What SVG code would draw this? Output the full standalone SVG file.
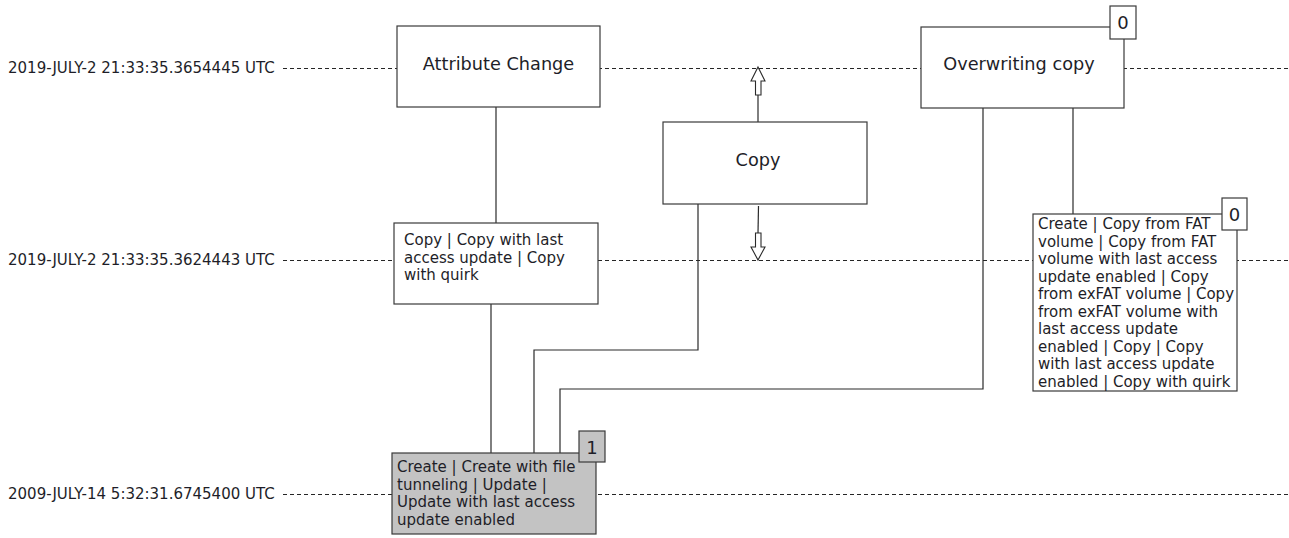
<svg xmlns="http://www.w3.org/2000/svg" width="1289" height="538" viewBox="0 0 1289 538">
  <style>
    .bg { fill: #ffffff; }
    .time { font-family: "DejaVu Sans", Verdana, sans-serif; font-size: 15px; fill: #1e1e28; }
    .axis { stroke: #262626; stroke-width: 1; stroke-dasharray: 4 3; fill: none; }
    .box { fill: #ffffff; stroke: #3a3a3a; stroke-width: 1.2; }
    .box.gray { fill: #c3c3c3; }
    .title { font-family: "DejaVu Sans", Verdana, sans-serif; font-size: 17.7px; fill: #1e1e28; text-anchor: middle; }
    .body { font-family: "DejaVu Sans", Verdana, sans-serif; font-size: 15px; fill: #1e1e28; }
    .badge { font-family: "DejaVu Sans", Verdana, sans-serif; font-size: 18px; fill: #1e1e28; text-anchor: middle; }
    .link { stroke: #2a2a2a; stroke-width: 1.2; fill: none; }
    .hollow { fill: #ffffff; stroke: #2a2a2a; stroke-width: 1.1; }
  </style>

  <rect class="bg" x="0" y="0" width="1289" height="538"/>

  <!-- time axis -->
  <g id="timeline">
    <text class="time" x="8" y="73">2019-JULY-2 21:33:35.3654445 UTC</text>
    <line class="axis" x1="283" y1="68.5" x2="1289" y2="68.5"/>
    <text class="time" x="8" y="265">2019-JULY-2 21:33:35.3624443 UTC</text>
    <line class="axis" x1="283" y1="260.5" x2="1289" y2="260.5"/>
    <text class="time" x="8" y="499">2009-JULY-14 5:32:31.6745400 UTC</text>
    <line class="axis" x1="283" y1="494.5" x2="1289" y2="494.5"/>
  </g>

  <!-- connectors -->
  <g id="connectors">
    <line class="link" x1="496" y1="107" x2="496" y2="223"/>
    <line class="link" x1="491" y1="304" x2="491" y2="453"/>
    <polyline class="link" points="698,204 698,350 534,350 534,453"/>
    <polyline class="link" points="983,108 983,389 560,389 560,453"/>
    <line class="link" x1="1073" y1="108" x2="1073" y2="214"/>
    <!-- Copy: upward and downward hollow arrows -->
    <line class="link" x1="758" y1="95" x2="758" y2="122"/>
    <polygon class="hollow" points="758,67 765,81 761,81 761,95 755.5,95 755.5,81 751,81"/>
    <line class="link" x1="758.5" y1="206" x2="758" y2="233"/>
    <polygon class="hollow" points="755.5,233 761,233 761,247 765,247 758,260 751,247 755.5,247"/>
  </g>

  <g id="node-attribute-change">
    <rect class="box" x="397" y="26" width="203" height="81"/>
    <text class="title" x="498.5" y="70">Attribute Change</text>
  </g>

  <g id="node-overwriting-copy">
    <rect class="box" x="921" y="27" width="203" height="81"/>
    <text class="title" x="1019" y="70">Overwriting copy</text>
    <rect class="box" x="1110" y="6" width="26" height="33"/>
    <text class="badge" x="1123" y="29">0</text>
  </g>

  <g id="node-copy">
    <rect class="box" x="663" y="122" width="204" height="82"/>
    <text class="title" x="758" y="166">Copy</text>
  </g>

  <g id="node-copy-variants">
    <rect class="box" x="394" y="223" width="204" height="81"/>
    <text class="body">
      <tspan x="404" y="245">Copy | Copy with last</tspan>
      <tspan x="404" y="263">access update | Copy</tspan>
      <tspan x="404" y="280">with quirk</tspan>
    </text>
  </g>

  <g id="node-create-copy">
    <rect class="box" x="1033" y="214" width="204" height="177"/>
    <text class="body">
      <tspan x="1038" y="229">Create | Copy from FAT</tspan>
      <tspan x="1038" y="246.5">volume | Copy from FAT</tspan>
      <tspan x="1038" y="264">volume with last access</tspan>
      <tspan x="1038" y="281.5">update enabled | Copy</tspan>
      <tspan x="1038" y="299">from exFAT volume | Copy</tspan>
      <tspan x="1038" y="316.5">from exFAT volume with</tspan>
      <tspan x="1038" y="334">last access update</tspan>
      <tspan x="1038" y="351.5">enabled | Copy | Copy</tspan>
      <tspan x="1038" y="369">with last access update</tspan>
      <tspan x="1038" y="386.5">enabled | Copy with quirk</tspan>
    </text>
    <rect class="box" x="1222" y="198" width="25" height="32"/>
    <text class="badge" x="1234.5" y="221">0</text>
  </g>

  <g id="node-create-update">
    <rect class="box gray" x="392" y="453" width="204" height="81"/>
    <text class="body">
      <tspan x="397" y="472">Create | Create with file</tspan>
      <tspan x="397" y="489.5">tunneling | Update |</tspan>
      <tspan x="397" y="507">Update with last access</tspan>
      <tspan x="397" y="524.5">update enabled</tspan>
    </text>
    <rect class="box gray" x="579" y="431" width="26" height="31"/>
    <text class="badge" x="592" y="454">1</text>
  </g>
</svg>
